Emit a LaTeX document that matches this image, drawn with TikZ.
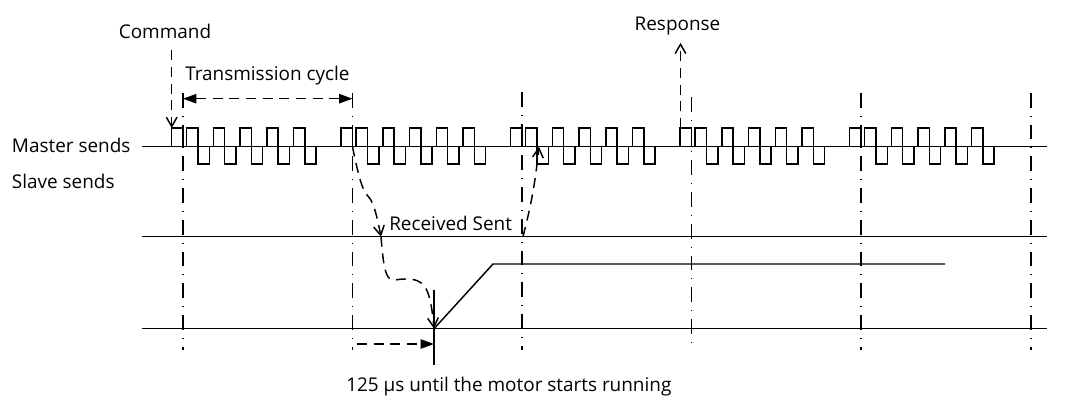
\documentclass[tikz,border=0pt]{standalone}
\usepackage{fontspec}
\setmainfont{Open Sans}
\usetikzlibrary{arrows.meta}
\tikzset{
  sig/.style={line width=1.1pt},
  gridline/.style={line width=1.1pt, dash pattern=on 11pt off 6pt on 0.8pt off 6pt},
  flow/.style={line width=1.1pt, dash pattern=on 7.5pt off 5pt},
  barb/.style={-{Straight Barb[length=7pt,width=8pt]}},
  filltip/.style={-{Triangle[length=10pt,width=7pt]}},
  lbl/.style={inner sep=0pt, anchor=base, font=\fontsize{14.2}{17}\selectfont}
}
\begin{document}
\begin{tikzpicture}[x=0.75pt,y=-0.75pt]
\useasboundingbox (0,0) rectangle (1072,397);
% labels
\node[lbl,anchor=base west] (master) at (11.7,152) {Master sends};
\node[lbl,anchor=base west] (slave) at (11.7,188) {Slave sends};
\node[lbl] (command) at (165,38) {Command};
\node[lbl,anchor=base west] (cycle) at (185,80) {Transmission cycle};
\node[lbl] (response) at (677.5,30) {Response};
\node[lbl,anchor=base west] (recvsent) at (389,230) {Received Sent};
\node[lbl,anchor=base west] (delay) at (346,391) {125 µs until the motor starts running};
% levels
\draw[sig] (142,146.7) -- (1047,146.7);
\draw[sig] (142,236.7) -- (1047,236.7);
\draw[sig] (142,328.7) -- (1047,328.7);
% cycle marks
\foreach \x/\top in {183/93,352.5/93,522/92,691.5/97,861/93,1031/93}
  \draw[gridline] (\x,\top) -- (\x,350);
% telegrams
\foreach \c in {183,352.5,522,691.5,861} {
  \draw[sig] (\c-11.3,146.7) |- (\c,128) -- (\c,146.7);
  \foreach \k in {0,...,4}
    \draw[sig] ({\c+3.7+26.7*\k},146.7) |- ({\c+15+26.7*\k},128)
      |- ({\c+26.3+26.7*\k},164) -- ({\c+26.3+26.7*\k},146.7);
}
% points on the levels
\coordinate (cyc0) at (183,98.7);
\coordinate (cyc1) at (352.5,98.7);
\coordinate (cmdtip) at (171.7,128);
\coordinate (resfoot) at (680.5,128);
\coordinate (mrecv) at (352.5,146.7);
\coordinate (srecv) at (381,236.7);
\coordinate (mstart) at (434,328.7);
\coordinate (ssent) at (523,236.7);
\coordinate (msent) at (539,146.7);
\coordinate (ramptop) at (493,264);
\coordinate (rampend) at (945,264);
\coordinate (ticktop) at (434,290);
\coordinate (tickbot) at (434,365);
\coordinate (dlystart) at (357,344);
\coordinate (dlyend) at (434,344);
% arrows
\draw[flow,barb] (command.south -| cmdtip) ++(0,12) -- (cmdtip);
\draw[flow,{Triangle[length=10pt,width=7pt]}-{Triangle[length=10pt,width=7pt]}] (cyc0) -- (cyc1);
\draw[flow,barb,shorten >=6pt] (resfoot) -- (resfoot |- response.south);
\draw[flow,barb] (mrecv) .. controls (368,225) and (368,170) .. (srecv);
\draw[flow,barb] (srecv) .. controls (385,290) and (390,279) .. (405,279)
  .. controls (424,279) and (430,285) .. (mstart);
\draw[flow,barb] (ssent) .. controls (531,205) and (535,185) .. (msent);
% motor
\draw[sig] (mstart) -- (ramptop) -- (rampend);
\draw[sig] (ticktop) -- (tickbot);
\draw[flow,filltip] (dlystart) -- (dlyend);
\end{tikzpicture}
\end{document}
